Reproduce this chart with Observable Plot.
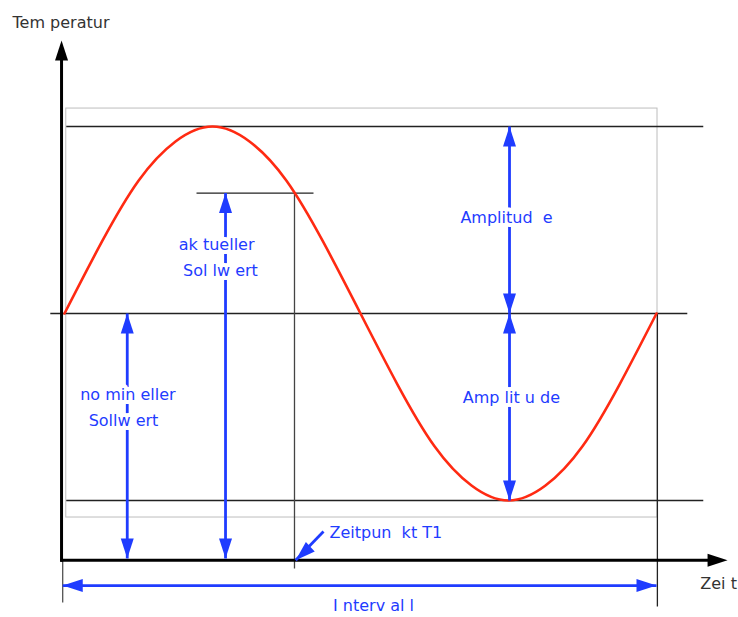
<!DOCTYPE html>
<html><head><meta charset="utf-8">
<script src="https://cdn.jsdelivr.net/npm/d3@7"></script>
<script src="https://cdn.jsdelivr.net/npm/@observablehq/plot@0.6"></script>
<style>body{margin:0;background:#fff} svg{display:block}</style>
</head><body><div id="chart"></div>
<script>
// Temperature curve: time as fraction of the interval, temperature in amplitudes around the nominal setpoint
const curveTime = [0, 0.0625, 0.125, 0.1875, 0.25, 0.3125, 0.375, 0.4375, 0.5, 0.5625, 0.625, 0.6875, 0.75, 0.8125, 0.875, 0.9375, 1];
const curveTemp = [0, 0.38, 0.71, 0.92, 1, 0.92, 0.71, 0.38, 0, -0.38, -0.71, -0.92, -1, -0.92, -0.71, -0.38, 0];

// key values
const nominalSetpoint = 0;
const amplitude = 1;
const timeT1 = 0.3885;
const actualSetpoint = 0.644;
const timeAxisLevel = -1.32;
const tempAxisTime = -0.005;
const intervalLevel = -1.455;

// reference lines (level, start, end)
const refLevels = [amplitude, nominalSetpoint, -amplitude];
const refStarts = [0.003, -0.024, 0.003];
const refEnds = [1.079, 1.052, 1.079];

// labels
const labelTexts = ["ak tueller", "Sol lw ert", "no min eller", "Sollw ert", "Amplitud  e", "Amp lit u de"];
const labelTimes = [0.257, 0.2635, 0.107, 0.0997, 0.7466, 0.755];
const labelTemps = [0.369, 0.230, -0.433, -0.572, 0.513, -0.449];

const BLUE = "#1f3cff", RED = "#ff2a12", FONT = "DejaVu Sans";

const curve = curveTime.map((t, i) => ({t, temp: curveTemp[i]}));
const refs = refLevels.map((v, i) => ({v, x1: refStarts[i], x2: refEnds[i]}));
const labels = labelTexts.map((s, i) => ({s, t: labelTimes[i], temp: labelTemps[i]}));

// blue double arrows (vertical) and interval arrow
const blueSegs = [
  {x1: 0.106, y1: nominalSetpoint, x2: 0.106, y2: -1.31},
  {x1: 0.272, y1: actualSetpoint, x2: 0.272, y2: -1.31},
  {x1: 0.7517, y1: amplitude, x2: 0.7517, y2: nominalSetpoint},
  {x1: 0.7517, y1: nominalSetpoint, x2: 0.7517, y2: -amplitude},
  {x1: 0.4375, y1: -1.166, x2: timeT1 + 0.002, y2: timeAxisLevel},
  {x1: -0.003, y1: intervalLevel, x2: 1.0, y2: intervalLevel}
];
const blueHeads = [
  {t: 0.106, temp: nominalSetpoint, a: 0}, {t: 0.106, temp: -1.31, a: 180},
  {t: 0.272, temp: actualSetpoint, a: 0}, {t: 0.272, temp: -1.31, a: 180},
  {t: 0.7517, temp: amplitude, a: 0}, {t: 0.7517, temp: nominalSetpoint, a: 180},
  {t: 0.7517, temp: nominalSetpoint, a: 0}, {t: 0.7517, temp: -amplitude, a: 180},
  {t: timeT1 + 0.002, temp: timeAxisLevel, a: 227},
  {t: -0.003, temp: intervalLevel, a: 270}, {t: 1.0, temp: intervalLevel, a: 90}
];
const axisHeads = [{t: tempAxisTime, temp: 1.46, a: 0}, {t: 1.12, temp: timeAxisLevel, a: 90}];

const head = {draw(ctx) { ctx.moveTo(0, 0); ctx.lineTo(-6.5, 20); ctx.lineTo(6.5, 20); ctx.closePath(); }};

const chart = Plot.plot({
  width: 738, height: 617, margin: 0,
  x: {domain: [0, 1], range: [64, 656], axis: null},
  y: {domain: [-1, 1], range: [500, 126], axis: null},
  marks: [
    Plot.rect([0], {x1: 0.003, x2: 1.0017, y1: -1.091, y2: 1.096, fill: "none", stroke: "#bdbdbd", strokeWidth: 1}),
    Plot.link(refs, {x1: "x1", x2: "x2", y1: "v", y2: "v", stroke: "#222", strokeWidth: 1.3}),
    Plot.link([0], {x1: 0.223, x2: 0.4206, y1: actualSetpoint, y2: actualSetpoint, stroke: "#222", strokeWidth: 1.3}),
    Plot.link([0], {x1: timeT1, x2: timeT1, y1: actualSetpoint, y2: -1.364, stroke: "#444", strokeWidth: 1.3}),
    Plot.link([0], {x1: 1.0015, x2: 1.0015, y1: 0, y2: -1.567, stroke: "#222", strokeWidth: 1.3}),
    Plot.link([0], {x1: -0.003, x2: -0.003, y1: timeAxisLevel, y2: -1.545, stroke: "#444", strokeWidth: 1.2}),
    Plot.link([0], {x1: tempAxisTime, x2: tempAxisTime, y1: timeAxisLevel - 0.008, y2: 1.40, stroke: "#000", strokeWidth: 3}),
    Plot.link([0], {x1: tempAxisTime - 0.002, x2: 1.09, y1: timeAxisLevel, y2: timeAxisLevel, stroke: "#000", strokeWidth: 3}),
    Plot.dot(axisHeads, {x: "t", y: "temp", rotate: "a", symbol: head, fill: "#000", stroke: "none"}),
    Plot.line(curve, {x: "t", y: "temp", curve: "natural", stroke: RED, strokeWidth: 2.6}),
    Plot.link(blueSegs, {x1: "x1", y1: "y1", x2: "x2", y2: "y2", stroke: BLUE, strokeWidth: 2.8}),
    Plot.dot(blueHeads, {x: "t", y: "temp", rotate: "a", symbol: head, fill: BLUE, stroke: "none"}),
    Plot.text(labels, {x: "t", y: "temp", text: "s", fill: BLUE, stroke: "white", strokeWidth: 8, paintOrder: "stroke", fontSize: 16, fontFamily: FONT}),
    Plot.text(["Zeitpun  kt T1"], {x: 0.4476, y: -1.171, text: d => d, textAnchor: "start", fill: BLUE, fontSize: 16, fontFamily: FONT}),
    Plot.text(["I nterv al l"], {x: 0.522, y: -1.566, text: d => d, fill: BLUE, fontSize: 16, fontFamily: FONT}),
    Plot.text(["Zei t"], {x: 1.074, y: -1.444, text: d => d, textAnchor: "start", fill: "#333", fontSize: 16, fontFamily: FONT}),
    Plot.text(["Tem peratur"], {x: -0.0878, y: 1.556, text: d => d, textAnchor: "start", fill: "#333", fontSize: 16, fontFamily: FONT})
  ]
});
document.getElementById("chart").append(chart);
</script>
</body></html>
